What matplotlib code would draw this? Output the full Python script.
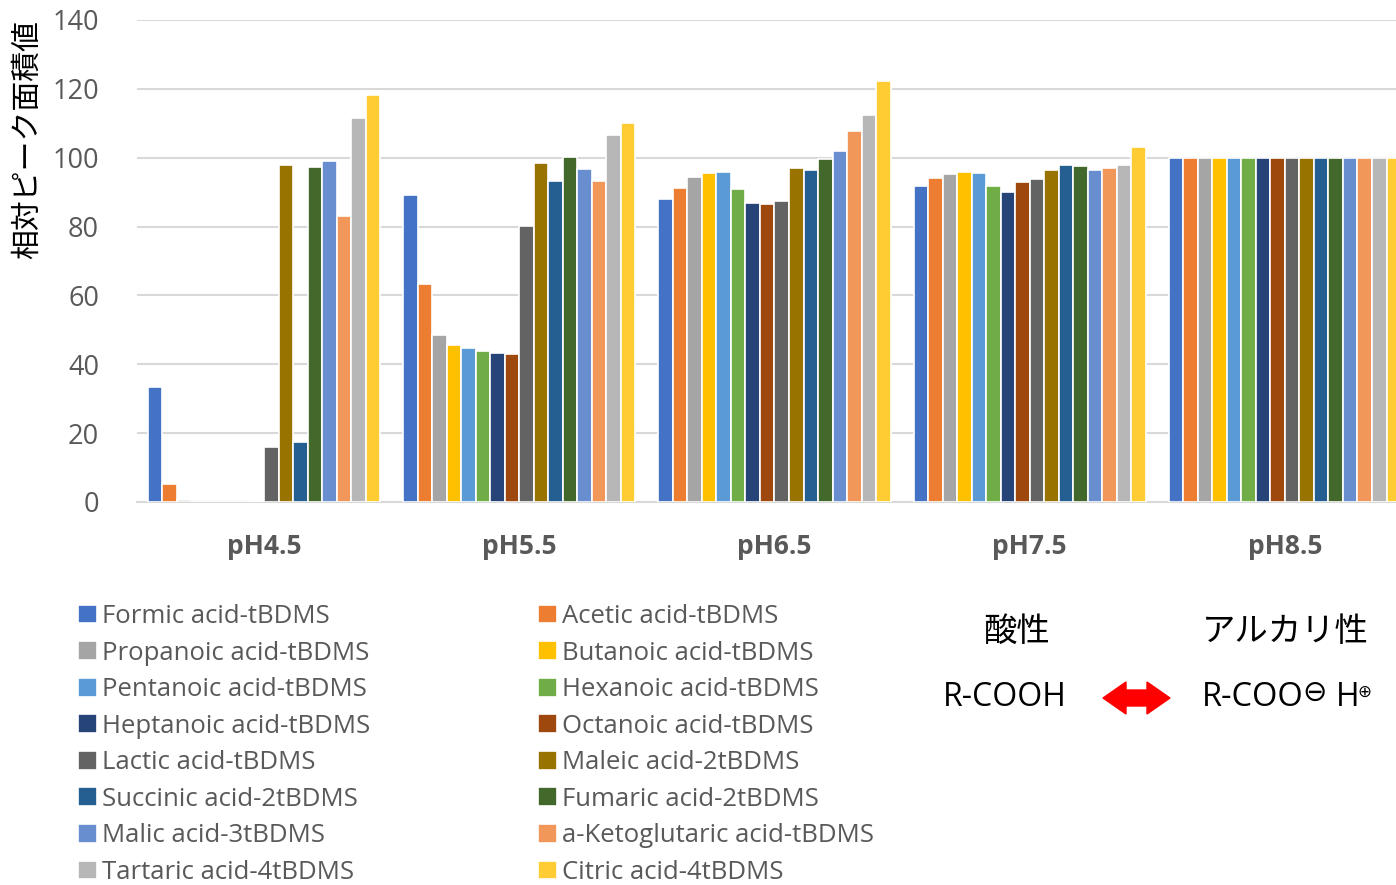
import numpy as np
import matplotlib.pyplot as plt
import matplotlib.patches as mpatches

plt.rcParams['font.family'] = ['Open Sans', 'Noto Sans CJK JP', 'DejaVu Sans']

groups = ['pH4.5', 'pH5.5', 'pH6.5', 'pH7.5', 'pH8.5']
series = ['Formic acid-tBDMS', 'Acetic acid-tBDMS', 'Propanoic acid-tBDMS',
          'Butanoic acid-tBDMS', 'Pentanoic acid-tBDMS', 'Hexanoic acid-tBDMS',
          'Heptanoic acid-tBDMS', 'Octanoic acid-tBDMS', 'Lactic acid-tBDMS',
          'Maleic acid-2tBDMS', 'Succinic acid-2tBDMS', 'Fumaric acid-2tBDMS',
          'Malic acid-3tBDMS', 'a-Ketoglutaric acid-tBDMS', 'Tartaric acid-4tBDMS',
          'Citric acid-4tBDMS']
colors = ['#4472C4', '#ED7D31', '#A5A5A5', '#FFC000', '#5B9BD5', '#70AD47',
          '#264478', '#9E480E', '#636363', '#997300', '#255E91', '#43682B',
          '#698ED0', '#F1975A', '#B7B7B7', '#FFCD33']

# values per pH, in series order
ph45 = [33.4, 5.2, 0.5, 0.1, 0.1, 0.1, 0.1, 0.3, 16.0, 97.9, 17.4, 97.3, 99.1, 83.1, 111.5, 118.2]
ph55 = [89.1, 63.3, 48.5, 45.6, 44.8, 43.9, 43.2, 42.9, 80.2, 98.6, 93.3, 100.1, 96.6, 93.2, 106.5, 110.1]
ph65 = [87.9, 91.3, 94.4, 95.6, 95.8, 91.0, 86.8, 86.5, 87.4, 97.0, 96.5, 99.5, 101.9, 107.7, 112.3, 122.3]
ph75 = [91.7, 94.0, 95.2, 95.9, 95.5, 91.8, 90.1, 93.0, 93.8, 96.4, 97.9, 97.5, 96.5, 96.9, 98.0, 103.0]
ph85 = [100.0] * 16

vals = np.array([ph45, ph55, ph65, ph75, ph85])

W, H = 1396, 885
fig = plt.figure(figsize=(W / 100, H / 100), dpi=100)
ax = fig.add_axes([136.5 / W, 1 - 502 / H, 1276 / W, 482 / H])

x = np.arange(len(groups))
n = len(series)
slot = 0.91 / n
handles = []
for i in range(n):
    b = ax.bar(x - 0.455 + slot * (i + 0.5), vals[:, i], width=slot,
               color=colors[i], edgecolor='white', linewidth=1.2, zorder=3)
    handles.append(b)

ax.set_xlim(-0.5, 4.5)
ax.set_ylim(0, 140)
ax.set_yticks(range(0, 141, 20))
ax.grid(axis='y', color='#d9d9d9', linewidth=1.5, zorder=0)
for s in ['top', 'right', 'left']:
    ax.spines[s].set_visible(False)
ax.spines['bottom'].set_color('#d9d9d9')
ax.spines['bottom'].set_linewidth(1.5)
ax.set_xticks(x)
ax.set_xticklabels(groups, fontsize=19, fontweight='bold', color='#595959')
ax.tick_params(axis='x', length=0, pad=22)
ax.tick_params(axis='y', length=0, pad=27, labelsize=19.5, labelcolor='#595959')
ax.set_ylabel('相対ピーク面積値', fontsize=21.5, family=['Noto Sans CJK JP'])
ax.yaxis.set_label_coords(-94 / 1276, 0.753)

# legend, two columns laid out row by row
left = [handles[i] for i in range(0, n, 2)]
right = [handles[i] for i in range(1, n, 2)]
kw = dict(frameon=False, fontsize=18.5, handlelength=0.75, handleheight=0.75,
          handletextpad=0.2, labelspacing=0.45, borderaxespad=0, borderpad=0,
          labelcolor='#595959', loc='upper left')
fig.legend(left, [series[i] for i in range(0, n, 2)],
           bbox_to_anchor=(78 / W, 1 - 604 / H), **kw)
fig.legend(right, [series[i] for i in range(1, n, 2)],
           bbox_to_anchor=(538 / W, 1 - 604 / H), **kw)

# acid / alkaline note
fig.text(1017 / W, 1 - 631 / H, '酸性', fontsize=24, ha='center', va='center',
         family=['Noto Sans CJK JP'])
fig.text(1285 / W, 1 - 631 / H, 'アルカリ性', fontsize=24, ha='center', va='center',
         family=['Noto Sans CJK JP'])
fig.text(1005 / W, 1 - 698 / H, 'R-COOH', fontsize=23, ha='center', va='center')
fig.text(1202 / W, 1 - 698 / H, 'R-COO', fontsize=23.5, ha='left', va='center')
fig.text(1302 / W, 1 - 693 / H, '⊖', fontsize=21, ha='left', va='center',
         family=['DejaVu Sans'])
fig.text(1336 / W, 1 - 698 / H, 'H', fontsize=23, ha='left', va='center')
fig.text(1357 / W, 1 - 692 / H, '⊕', fontsize=12, ha='left', va='center',
         family=['DejaVu Sans'])

# red double arrow
pts = [(1103, 698), (1126, 682), (1126, 690), (1147, 690), (1147, 682),
       (1170, 698), (1147, 714), (1147, 706), (1126, 706), (1126, 714)]
arrow = mpatches.Polygon([(px / W, 1 - py / H) for px, py in pts], closed=True,
                         color='red', transform=fig.transFigure)
fig.patches.append(arrow)

fig.savefig('out.png', dpi=100)
